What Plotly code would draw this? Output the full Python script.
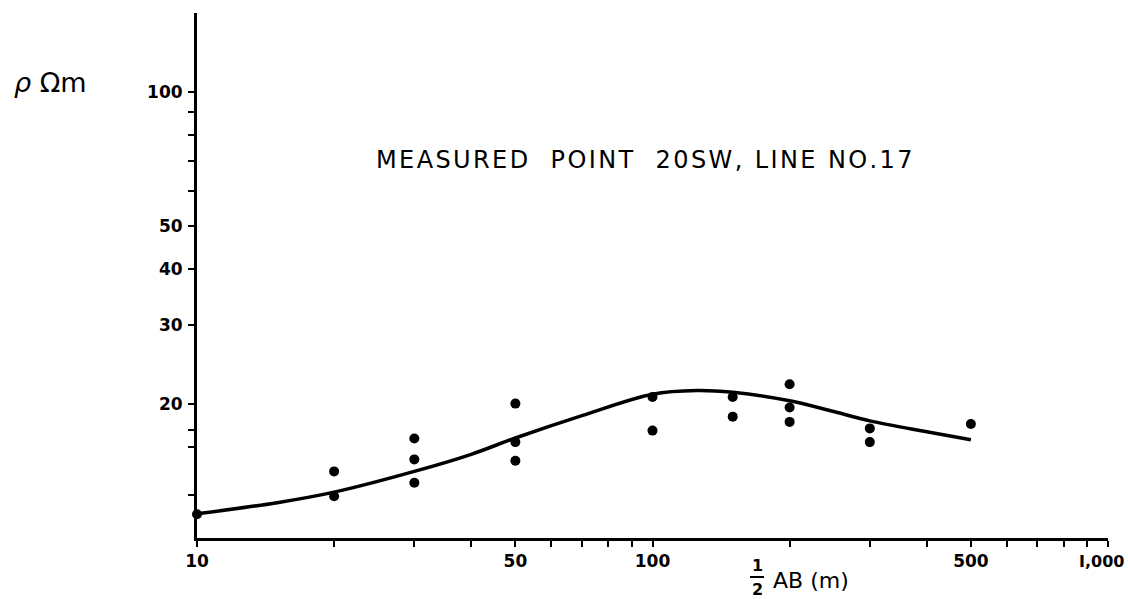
import plotly.graph_objects as go
import math

# measured apparent resistivity points
meas_x = [10, 20, 20, 30, 30, 30, 50, 50, 50, 100, 100, 150, 150, 200, 200, 200, 300, 300, 500]
meas_y = [11.3, 14.1, 12.4, 16.7, 15.0, 13.3, 20.0, 16.4, 14.9, 20.7, 17.4, 20.7, 18.7, 22.1, 19.6, 18.2, 17.6, 16.4, 18.0]

# fitted curve
curve_x = [10, 15, 20, 30, 40, 50, 70, 100, 125, 150, 200, 250, 300, 400, 500]
curve_y = [11.33, 12.0, 12.67, 14.1, 15.4, 16.75, 18.8, 21.0, 21.4, 21.2, 20.3, 19.2, 18.3, 17.3, 16.6]

# ticks
x_tickvals = [10, 20, 30, 40, 50, 60, 70, 80, 90, 100, 200, 300, 400, 500, 600, 700, 800, 900, 1000]
x_ticktext = ["10", "", "", "", "50", "", "", "", "", "100", "", "", "", "500", "", "", "", "", ""]
x_last_label = "I,000"
y_tickvals = [12.5, 16, 17.5, 20, 30, 40, 50, 60, 70, 80, 90, 100]
y_ticktext = ["", "", "", "20", "30", "40", "50", "", "", "", "", "100"]

title_text = "MEASURED  POINT  20SW, LINE NO.17"
ylabel_text = "<i>ρ</i> Ωm"

FONT = "DejaVu Sans"


def spaced(s, sep="\u200a"):
    return sep.join(s)


fig = go.Figure()
fig.add_trace(go.Scatter(x=curve_x, y=curve_y, mode="lines",
                         line=dict(color="black", width=3.5, shape="spline", smoothing=1.0),
                         cliponaxis=False, hoverinfo="skip"))
fig.add_trace(go.Scatter(x=meas_x, y=meas_y, mode="markers",
                         marker=dict(color="black", size=10),
                         cliponaxis=False))

fig.update_layout(
    width=1128, height=599,
    margin=dict(l=197, r=20, t=13, b=61, autoexpand=False),
    paper_bgcolor="white", plot_bgcolor="white",
    showlegend=False,
    font=dict(family=FONT, color="black"),
    xaxis=dict(type="log", range=[1, 3], showgrid=False, zeroline=False,
               showline=True, linecolor="black", linewidth=3,
               ticks="outside", ticklen=6, tickwidth=2, tickcolor="black",
               tickvals=x_tickvals, ticktext=x_ticktext,
               automargin=False,
               tickfont=dict(family=FONT, size=17, weight="bold")),
    yaxis=dict(type="log", range=[1, math.log10(150)], showgrid=False, zeroline=False,
               showline=True, linecolor="black", linewidth=3,
               ticks="outside", ticklen=6, tickwidth=2, tickcolor="black",
               tickvals=y_tickvals, ticktext=y_ticktext,
               ticklabelstandoff=2, automargin=False,
               tickfont=dict(family=FONT, size=17, weight="bold")),
)

# last x tick label, kept inside the page
fig.add_annotation(text=x_last_label, xref="paper", yref="paper",
                   x=(1126 - 197) / 911, y=(538 - 561) / 525, showarrow=False,
                   font=dict(family=FONT, size=16, weight="bold"),
                   xanchor="right", yanchor="middle")

# chart title inside plot
fig.add_annotation(text=spaced(title_text), xref="paper", yref="paper",
                   x=(644 - 197) / 911, y=(538 - 160) / 525, showarrow=False,
                   font=dict(family=FONT, size=24), xanchor="center", yanchor="middle")

# y-axis label
fig.add_annotation(text=ylabel_text, xref="paper", yref="paper",
                   x=(12 - 197) / 911, y=(538 - 82) / 525, showarrow=False,
                   font=dict(family=FONT, size=27), xanchor="left", yanchor="middle")

# x-axis label: 1/2 AB (m)
fx = (757 - 197) / 911
fig.add_annotation(text="1", xref="paper", yref="paper", x=fx, y=(538 - 565) / 525,
                   showarrow=False, font=dict(family=FONT, size=16, weight="bold"),
                   xanchor="center", yanchor="middle")
fig.add_annotation(text="2", xref="paper", yref="paper", x=fx, y=(538 - 589) / 525,
                   showarrow=False, font=dict(family=FONT, size=16, weight="bold"),
                   xanchor="center", yanchor="middle")
fig.add_shape(type="line", xref="paper", yref="paper",
              x0=(750 - 197) / 911, x1=(764 - 197) / 911,
              y0=(538 - 577) / 525, y1=(538 - 577) / 525,
              line=dict(color="black", width=2))
fig.add_annotation(text="AB (m)", xref="paper", yref="paper", x=(771 - 197) / 911,
                   y=(538 - 580) / 525, showarrow=False,
                   font=dict(family=FONT, size=22), xanchor="left", yanchor="middle")

fig.write_html("out.html")
